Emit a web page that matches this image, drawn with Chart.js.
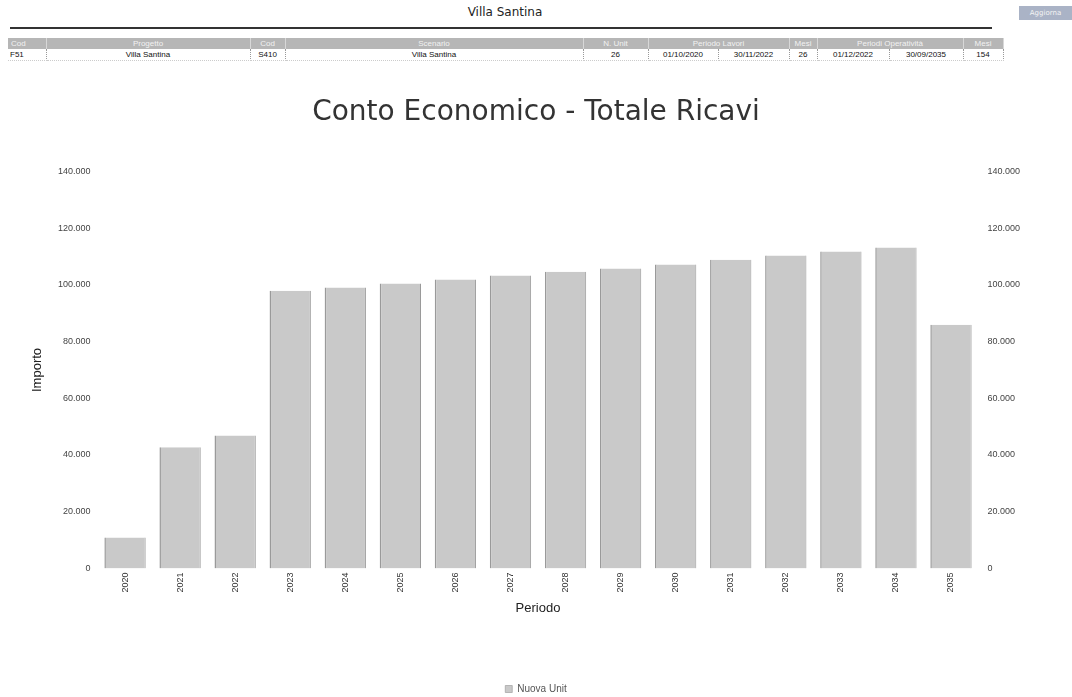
<!DOCTYPE html>
<html>
<head>
<meta charset="utf-8">
<script src="https://cdn.jsdelivr.net/npm/chart.js@4.4.0/dist/chart.umd.min.js"></script>
<style>
  html, body { margin: 0; padding: 0; background: #fff; }
  body { width: 1072px; height: 697px; position: relative; overflow: hidden; font-family: "DejaVu Sans", sans-serif; color: #222; }
  #head { position: absolute; left: 10px; top: 5px; width: 990px; text-align: center; font-size: 12px; }
  #rule { position: absolute; left: 10px; top: 27px; width: 982px; height: 2px; background: #333; }
  #btn { position: absolute; left: 1019px; top: 6px; width: 53px; height: 14px; background: #aab3c6; color: #f4f4f4; font-size: 7px; line-height: 14px; text-align: center; overflow: hidden; white-space: nowrap; }
  table { position: absolute; left: 8px; top: 38px; border-collapse: collapse; table-layout: fixed; font-family: "Liberation Sans", sans-serif; font-size: 8px; }
  th { background: #b6b6b6; color: #f2f2f2; font-weight: normal; height: 11px; padding: 0; border-right: 1px solid #d8d8d8; }
  td { height: 11px; padding: 0 2px; text-align: center; color: #111; border-right: 1px dotted #999; border-bottom: 1px dotted #ccc; }
  /* il canvas sborda di qualche px sotto: la legenda cade più in basso */
  #wrap { position: absolute; left: 0; top: 90px; width: 1072px; height: 614px; }
</style>
</head>
<body>
<div id="head">Villa Santina</div>
<div id="rule"></div>
<div id="btn">Aggiorna</div>
<table>
  <colgroup>
    <col style="width:38px"><col style="width:204px"><col style="width:35px"><col style="width:298px">
    <col style="width:65px"><col style="width:70px"><col style="width:71px"><col style="width:28px">
    <col style="width:72px"><col style="width:74px"><col style="width:40px">
  </colgroup>
  <tr><th style="text-align:left;padding-left:3px">Cod</th><th>Progetto</th><th>Cod</th><th>Scenario</th><th>N. Unit</th><th colspan="2">Periodo Lavori</th><th>Mesi</th><th colspan="2">Periodi Operatività</th><th>Mesi</th></tr>
  <tr><td style="text-align:left">F51</td><td>Villa Santina</td><td>S410</td><td>Villa Santina</td><td>26</td><td>01/10/2020</td><td>30/11/2022</td><td>26</td><td>01/12/2022</td><td>30/09/2035</td><td>154</td></tr>
</table>
<div id="wrap"><canvas id="chart"></canvas></div>

<script>
// dati
const periodi = ['2020', '2021', '2022', '2023', '2024', '2025', '2026', '2027',
                 '2028', '2029', '2030', '2031', '2032', '2033', '2034', '2035'];
const ricavi = [10900, 42700, 46900, 98000, 99100, 100500, 101900, 103300,
                104700, 105800, 107200, 108900, 110400, 111800, 113200, 86000];
const serieNome = 'Nuova Unit';
const yMax = 140000;
const yStep = 20000;

// formato italiano: 140.000
const fmt = v => String(v).replace(/\B(?=(\d{3})+(?!\d))/g, '.');

const tickFont = { family: 'Liberation Sans', size: 9 };

new Chart(document.getElementById('chart'), {
  type: 'bar',
  data: {
    labels: periodi,
    datasets: [{
      label: serieNome,
      data: ricavi,
      backgroundColor: '#c9c9c9',
      borderColor: '#9a9a9a',
      borderWidth: { left: 1.5, right: 1, top: 0, bottom: 0 },
      borderSkipped: false,
      categoryPercentage: 1,
      barPercentage: 0.75
    }]
  },
  options: {
    responsive: true,
    maintainAspectRatio: false,
    animation: false,
    layout: { padding: { left: 0, right: 0, top: 0, bottom: 0 } },
    plugins: {
      title: {
        display: true,
        text: 'Conto Economico - Totale Ricavi',
        color: '#333',
        font: { family: 'DejaVu Sans', size: 28, weight: 'normal' },
        padding: { top: 6, bottom: 42 }
      },
      legend: {
        position: 'bottom',
        labels: {
          color: '#555',
          font: { family: 'Liberation Sans', size: 10 },
          boxWidth: 7,
          boxHeight: 7,
          padding: 3
        }
      },
      tooltip: { enabled: false }
    },
    scales: {
      x: {
        grid: { display: false, drawTicks: false },
        border: { display: false },
        ticks: { color: '#333', font: tickFont, maxRotation: 90, minRotation: 90, padding: 4 },
        title: { display: true, text: 'Periodo', color: '#222', font: { family: 'Liberation Sans', size: 13 }, padding: { top: 4, bottom: 65 } }
      },
      y: {
        position: 'left',
        min: 0, max: yMax,
        grid: { display: false, drawTicks: false },
        border: { display: false },
        ticks: { stepSize: yStep, color: '#444', font: tickFont, padding: 7, callback: v => fmt(v) },
        title: { display: true, text: 'Importo', color: '#222', font: { family: 'Liberation Sans', size: 13 }, padding: { top: 30, bottom: 0 } },
        afterFit: s => { s.width = 97.5; }
      },
      y2: {
        position: 'right',
        display: true,
        min: 0, max: yMax,
        grid: { display: false, drawTicks: false },
        border: { display: false },
        ticks: { stepSize: yStep, color: '#444', font: tickFont, padding: 9, callback: v => fmt(v) },
        afterFit: s => { s.width = 93.5; }
      }
    }
  }
});
</script>
</body>
</html>
